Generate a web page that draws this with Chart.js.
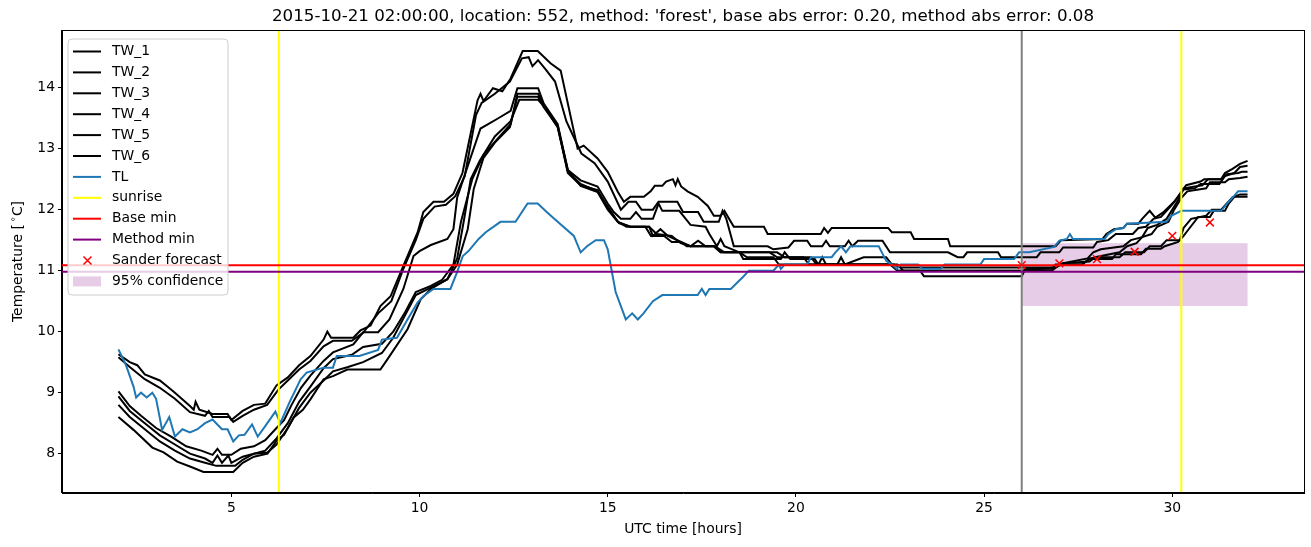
<!DOCTYPE html>
<html>
<head>
<meta charset="utf-8">
<script src="https://cdn.jsdelivr.net/npm/chart.js@4/dist/chart.umd.min.js"></script>
<style>
html,body{margin:0;padding:0;background:#fff}
</style>
</head>
<body>
<canvas id="chart" width="1311" height="547"></canvas>
<script>
// [hour, temperature] vertices
var tw1 = [[2,9.63],[2.3,9.5],[2.5,9.45],[2.7,9.3],[3.1,9.2],[3.3,9.1],[3.5,9.0],[3.9,8.78],[4.0,8.72],[4.05,8.85],[4.15,8.72],[4.5,8.65],[4.9,8.65],[5.0,8.55],[5.3,8.7],[5.6,8.8],[5.9,8.82],[6.2,9.12],[6.5,9.25],[6.8,9.45],[7.1,9.6],[7.45,9.87],[7.55,10.0],[7.65,9.9],[8.24,9.9],[8.43,10.02],[8.7,10.1],[8.96,10.42],[9.23,10.58],[9.57,11.08],[9.95,11.63],[10.1,11.96],[10.37,12.13],[10.65,12.13],[10.9,12.26],[11.14,12.6],[11.54,13.79],[11.62,13.9],[11.7,13.78],[11.95,13.99],[12.2,13.94],[12.42,14.15],[12.74,14.6],[13.14,14.6],[13.48,14.4],[13.75,14.28],[14.2,13.0],[14.36,13.05],[14.73,12.84],[15.0,12.62],[15.27,12.29],[15.43,12.13],[15.6,12.21],[15.96,12.21],[16.14,12.3],[16.25,12.39],[16.45,12.39],[16.55,12.46],[16.73,12.5],[16.8,12.4],[16.86,12.5],[16.95,12.38],[17.12,12.3],[17.39,12.21],[17.66,12.06],[17.82,11.9],[18.0,11.9],[18.1,11.98],[18.35,11.72],[19.15,11.72],[19.25,11.6],[20.66,11.6],[20.75,11.7],[20.85,11.62],[20.95,11.7],[22.45,11.7],[22.55,11.63],[23.05,11.63],[23.14,11.52],[24.04,11.52],[24.1,11.4],[26.9,11.4],[27.05,11.5],[28.15,11.52],[28.25,11.6],[28.45,11.68],[28.7,11.7],[28.8,11.77],[29.1,11.77],[29.2,11.85],[29.4,11.98],[29.55,11.87],[29.75,11.95],[30.05,12.13],[30.25,12.3],[30.37,12.4],[30.75,12.46],[30.85,12.5],[31.3,12.5],[31.4,12.6],[31.6,12.67],[31.8,12.75],[32,12.8]];
var tw2 = [[2,9.58],[2.3,9.42],[2.7,9.22],[3.1,9.08],[3.5,8.9],[3.9,8.68],[4.3,8.62],[4.4,8.7],[4.5,8.6],[4.95,8.6],[5.05,8.52],[5.3,8.62],[5.6,8.72],[5.95,8.8],[6.25,9.05],[6.5,9.2],[6.8,9.38],[7.1,9.52],[7.45,9.76],[7.7,9.85],[8.2,9.85],[8.5,9.98],[8.9,10.3],[9.25,10.5],[9.55,11.0],[9.9,11.5],[10.1,11.85],[10.4,12.05],[10.7,12.08],[10.95,12.22],[11.2,12.55],[11.5,13.55],[11.65,13.75],[12.0,13.9],[12.4,14.1],[12.72,14.48],[12.9,14.5],[13.0,14.35],[13.15,14.45],[13.35,14.3],[13.6,14.1],[13.9,13.45],[14.3,12.92],[14.65,12.76],[15.0,12.46],[15.35,12.0],[15.55,12.13],[15.75,12.13],[15.9,12.0],[16.2,12.0],[16.35,12.13],[16.85,12.13],[17.0,11.96],[17.4,11.96],[17.55,11.8],[17.95,11.8],[18.05,11.98],[18.15,11.85],[18.35,11.4],[19.25,11.4],[19.4,11.35],[19.8,11.38],[19.95,11.49],[20.3,11.49],[20.4,11.4],[20.7,11.4],[20.8,11.49],[20.9,11.4],[21.3,11.4],[21.4,11.49],[21.5,11.4],[21.65,11.49],[22.3,11.49],[22.5,11.3],[24.04,11.3],[24.3,11.22],[24.45,11.22],[24.55,11.3],[25.37,11.3],[25.45,11.22],[26.4,11.22],[26.5,11.3],[27.0,11.3],[27.1,11.38],[27.9,11.38],[28.0,11.47],[28.3,11.5],[28.5,11.6],[28.95,11.6],[29.1,11.7],[29.3,11.72],[29.5,11.85],[29.7,11.88],[29.95,12.05],[30.15,12.2],[30.3,12.33],[30.6,12.35],[30.75,12.42],[31.25,12.42],[31.4,12.55],[31.65,12.6],[31.8,12.7],[32,12.72]];
var tw3 = [[2,9.02],[2.3,8.78],[2.6,8.62],[3.0,8.42],[3.4,8.28],[3.8,8.12],[4.2,8.05],[4.5,7.98],[4.63,8.08],[4.75,7.98],[5.0,7.98],[5.25,8.08],[5.6,8.12],[5.9,8.22],[6.2,8.42],[6.4,8.55],[6.6,8.8],[6.85,9.08],[7.1,9.28],[7.45,9.52],[7.7,9.66],[8.24,9.79],[8.5,9.99],[8.9,9.99],[9.2,10.2],[9.57,10.7],[9.84,11.24],[10.0,11.32],[10.3,11.42],[10.74,11.52],[10.9,11.68],[11.0,12.2],[11.3,12.75],[11.62,13.33],[12.07,13.49],[12.42,13.62],[12.6,13.99],[13.15,13.99],[13.3,13.74],[13.67,13.4],[13.94,12.65],[14.28,12.48],[14.73,12.38],[15.0,12.1],[15.16,11.96],[15.35,11.85],[15.6,11.85],[15.75,11.96],[15.9,11.85],[16.2,11.85],[16.35,12.1],[16.45,11.98],[16.9,11.98],[17.2,11.75],[17.6,11.72],[17.7,11.6],[17.9,11.4],[18.0,11.52],[18.1,11.4],[18.5,11.3],[19.5,11.3],[19.7,11.22],[20.2,11.22],[20.35,11.1],[20.6,11.1],[20.7,11.22],[20.8,11.1],[21.1,11.1],[21.2,11.22],[21.3,11.1],[21.8,11.22],[22.4,11.22],[22.55,11.1],[22.7,11.0],[26.0,11.0],[26.9,11.05],[27.0,11.1],[27.1,11.12],[27.75,11.2],[27.9,11.3],[28.1,11.35],[28.7,11.4],[28.9,11.5],[29.2,11.55],[29.35,11.7],[29.6,11.75],[29.85,11.85],[30.0,12.0],[30.2,12.2],[30.3,12.35],[30.8,12.4],[30.95,12.5],[31.3,12.5],[31.45,12.58],[31.75,12.6],[31.85,12.62],[32,12.62]];
var tw4 = [[2,8.94],[2.3,8.7],[2.7,8.5],[3.1,8.3],[3.5,8.15],[3.9,8.0],[4.3,7.92],[4.5,7.85],[4.63,7.97],[4.75,7.85],[4.92,7.97],[5.0,7.85],[5.3,7.95],[5.6,8.0],[5.9,8.05],[6.2,8.25],[6.5,8.5],[6.8,8.85],[7.1,9.1],[7.45,9.4],[7.7,9.55],[8.2,9.62],[8.5,9.75],[9.0,9.8],[9.3,10.0],[9.6,10.3],[9.9,10.65],[10.3,10.75],[10.6,10.85],[10.9,11.1],[11.1,11.8],[11.4,12.5],[11.7,12.9],[12.07,13.16],[12.42,13.4],[12.6,13.9],[13.15,13.9],[13.35,13.66],[13.67,13.38],[13.94,12.62],[14.28,12.42],[14.73,12.3],[15.0,12.05],[15.27,11.8],[15.6,11.72],[16.1,11.72],[16.2,11.57],[16.4,11.68],[16.6,11.57],[16.95,11.47],[17.2,11.4],[17.4,11.49],[17.6,11.4],[17.85,11.4],[18.1,11.3],[18.5,11.3],[18.6,11.19],[19.6,11.19],[19.7,11.3],[19.85,11.19],[20.5,11.19],[20.6,11.1],[22.6,11.1],[22.8,11.05],[26.9,11.05],[27.0,11.1],[27.1,11.12],[27.8,11.15],[27.95,11.22],[28.6,11.3],[28.8,11.4],[29.05,11.45],[29.2,11.55],[29.45,11.6],[29.6,11.72],[29.9,11.8],[30.05,12.0],[30.25,12.2],[30.4,12.3],[30.9,12.35],[31.0,12.45],[31.4,12.45],[31.5,12.5],[31.8,12.52],[32,12.54]];
var tw5 = [[2,8.8],[2.3,8.6],[2.7,8.4],[3.1,8.2],[3.5,8.05],[3.9,7.92],[4.3,7.85],[4.6,7.8],[5.1,7.8],[5.3,7.9],[5.6,8.0],[5.96,8.02],[6.2,8.15],[6.5,8.42],[6.8,8.75],[7.1,9.0],[7.45,9.2],[7.7,9.35],[8.1,9.42],[8.5,9.5],[9.0,9.65],[9.3,9.9],[9.6,10.25],[9.9,10.6],[10.3,10.72],[10.74,10.86],[11.0,11.2],[11.2,11.9],[11.36,12.5],[11.6,12.8],[12.0,13.2],[12.42,13.45],[12.65,13.8],[13.15,13.8],[13.3,13.7],[13.67,13.35],[13.94,12.65],[14.28,12.39],[14.73,12.29],[15.0,12.0],[15.27,11.8],[15.5,11.72],[16.0,11.72],[16.15,11.57],[16.5,11.57],[16.7,11.47],[16.94,11.47],[17.1,11.4],[17.82,11.4],[18.0,11.3],[18.5,11.3],[18.7,11.22],[19.4,11.22],[19.55,11.1],[22.7,11.1],[22.85,11.0],[26.8,11.0],[26.9,11.05],[27.05,11.1],[27.6,11.1],[27.8,11.2],[28.0,11.22],[28.6,11.22],[28.75,11.3],[29.25,11.3],[29.4,11.4],[29.7,11.4],[29.85,11.5],[30.2,11.5],[30.3,11.7],[30.5,11.85],[30.9,11.9],[31.05,12.0],[31.3,12.0],[31.45,12.1],[31.6,12.2],[31.8,12.25],[32,12.25]];
var tw6 = [[2,8.6],[2.4,8.39],[2.9,8.1],[3.2,8.02],[3.56,7.87],[3.9,7.79],[4.26,7.7],[5.05,7.7],[5.3,7.85],[5.6,7.95],[5.96,8.0],[6.22,8.23],[6.4,8.31],[6.65,8.59],[6.9,8.72],[7.1,8.89],[7.45,9.22],[7.7,9.27],[8.08,9.38],[8.96,9.38],[9.15,9.55],[9.68,10.04],[10.03,10.53],[10.3,10.7],[10.74,10.86],[11.0,11.1],[11.28,11.68],[11.44,12.34],[11.7,12.85],[12.0,13.1],[12.4,13.35],[12.6,13.85],[13.15,13.85],[13.3,13.68],[13.67,13.36],[13.94,12.6],[14.28,12.4],[14.73,12.32],[15.0,12.02],[15.3,11.78],[15.6,11.72],[16.1,11.72],[16.3,11.6],[16.7,11.57],[16.94,11.45],[17.2,11.4],[17.82,11.4],[18.0,11.3],[19.3,11.3],[19.5,11.22],[20.4,11.22],[20.55,11.1],[22.5,11.1],[22.7,11.0],[23.3,11.0],[23.4,10.91],[26.0,10.91],[26.1,11.03],[26.8,11.03],[26.9,11.1],[27.6,11.1],[27.8,11.19],[28.4,11.19],[28.5,11.27],[29.17,11.27],[29.3,11.36],[29.7,11.36],[29.8,11.4],[30.16,11.47],[30.3,11.57],[30.4,11.65],[30.69,11.88],[31.0,11.88],[31.1,11.98],[31.4,11.98],[31.5,12.1],[31.65,12.21],[32,12.21]];
var tl = [[2,9.71],[2.2,9.45],[2.4,9.1],[2.47,8.92],[2.6,9.0],[2.75,8.92],[2.9,9.0],[3.0,8.9],[3.16,8.39],[3.35,8.6],[3.5,8.28],[3.7,8.4],[3.9,8.35],[4.1,8.4],[4.3,8.5],[4.5,8.56],[4.75,8.4],[4.9,8.4],[5.05,8.2],[5.2,8.3],[5.35,8.31],[5.55,8.48],[5.7,8.28],[5.9,8.45],[6.17,8.69],[6.3,8.5],[6.55,8.85],[6.84,9.22],[7.0,9.33],[7.45,9.41],[7.7,9.41],[7.8,9.6],[8.4,9.6],[8.9,9.7],[9.0,9.87],[9.4,9.9],[9.68,10.2],[9.95,10.48],[10.1,10.58],[10.37,10.7],[10.82,10.7],[11.0,10.98],[11.15,11.24],[11.3,11.32],[11.57,11.52],[11.76,11.63],[12.15,11.8],[12.55,11.8],[12.87,12.1],[13.14,12.1],[13.4,11.95],[13.67,11.8],[14.1,11.57],[14.28,11.3],[14.45,11.4],[14.68,11.5],[14.9,11.5],[15.0,11.35],[15.21,10.65],[15.48,10.2],[15.65,10.3],[15.8,10.2],[15.95,10.3],[16.2,10.5],[16.45,10.6],[17.39,10.6],[17.5,10.7],[17.6,10.6],[17.7,10.7],[18.27,10.7],[18.45,10.81],[18.6,10.9],[18.75,11.0],[19.4,11.0],[19.55,11.1],[19.6,11.03],[19.7,11.1],[20.3,11.1],[20.4,11.22],[20.95,11.22],[21.05,11.3],[21.2,11.4],[21.33,11.3],[21.45,11.4],[22.2,11.4],[22.4,11.16],[22.55,11.1],[22.68,11.03],[22.78,11.1],[23.25,11.1],[23.35,11.03],[23.85,11.03],[23.95,11.1],[24.9,11.1],[25.0,11.19],[25.8,11.19],[25.93,11.3],[26.2,11.3],[26.86,11.39],[27.0,11.49],[27.2,11.52],[27.28,11.6],[27.36,11.52],[28.2,11.52],[28.3,11.6],[28.5,11.68],[28.7,11.7],[28.8,11.77],[29.84,11.8],[29.97,11.9],[30.24,11.98],[31.3,11.98],[31.5,12.13],[31.65,12.23],[31.75,12.3],[32,12.3]];

var forecastHours = [26, 27, 28, 29, 30, 31];
var forecastTemps = [11.09, 11.12, 11.19, 11.31, 11.57, 11.79];
var sunrise = [6.26, 30.24];
var forecastStart = 26.0;
var baseMin = 11.09;
var methodMin = 10.98;
var confHours = [26, 32];
var confTemps = [10.42, 11.45];

var xTicks = [5, 10, 15, 20, 25, 30];
var yTicks = [8, 9, 10, 11, 12, 13, 14];
var twLabels = ['TW_1', 'TW_2', 'TW_3', 'TW_4', 'TW_5', 'TW_6'];

var FONT = '"DejaVu Sans", sans-serif';

function pts(a){
  return a.map(function(p){ return {x: p[0], y: p[1]}; });
}

var datasets = [];
[tw1, tw2, tw3, tw4, tw5, tw6].forEach(function(s, i){
  datasets.push({label: twLabels[i], data: pts(s), borderColor: '#000', borderWidth: 2,
    pointRadius: 0, fill: false, tension: 0, order: 3});
});
datasets.push({label: 'TL', data: pts(tl), borderColor: '#1f77b4', borderWidth: 2,
  pointRadius: 0, fill: false, tension: 0, order: 2});
datasets.push({label: 'Sander forecast', type: 'scatter',
  data: forecastHours.map(function(h, i){ return {x: h, y: forecastTemps[i]}; }),
  showLine: false, pointStyle: 'crossRot', pointRadius: 5.5, borderColor: 'red',
  backgroundColor: 'red', pointBorderWidth: 1.5, order: 1});

var extras = {
  id: 'extras',
  beforeDatasetsDraw: function(chart){
    var ctx = chart.ctx, xs = chart.scales.x, ys = chart.scales.y;
    ctx.save();
    ctx.fillStyle = 'rgba(128,0,128,0.2)';
    var x0 = xs.getPixelForValue(confHours[0]), x1 = xs.getPixelForValue(confHours[1]);
    var y0 = ys.getPixelForValue(confTemps[1]), y1 = ys.getPixelForValue(confTemps[0]);
    ctx.fillRect(x0, y0, x1 - x0, y1 - y0);
    ctx.restore();
  },
  afterDatasetsDraw: function(chart){
    var ctx = chart.ctx, a = chart.chartArea, xs = chart.scales.x, ys = chart.scales.y;
    ctx.save();
    ctx.lineWidth = 2;
    function vline(v, c){
      var x = xs.getPixelForValue(v);
      ctx.strokeStyle = c; ctx.beginPath(); ctx.moveTo(x, a.top); ctx.lineTo(x, a.bottom); ctx.stroke();
    }
    function hline(v, c){
      var y = ys.getPixelForValue(v);
      ctx.strokeStyle = c; ctx.beginPath(); ctx.moveTo(a.left, y); ctx.lineTo(a.right, y); ctx.stroke();
    }
    sunrise.forEach(function(v){ vline(v, '#ffff00'); });
    vline(forecastStart, 'grey');
    hline(baseMin, 'red');
    hline(methodMin, 'purple');
    ctx.restore();
  },
  afterDraw: function(chart){
    var ctx = chart.ctx, a = chart.chartArea;
    ctx.save();
    // frame
    ctx.strokeStyle = '#000'; ctx.lineWidth = 1;
    ctx.strokeRect(Math.round(a.left) - 0.5, Math.round(a.top) + 0.5, Math.round(a.right - a.left) + 1, Math.round(a.bottom - a.top) - 1);
    // title and axis labels
    ctx.fillStyle = '#000';
    ctx.textAlign = 'center'; ctx.textBaseline = 'middle';
    ctx.font = '16.7px ' + FONT;
    ctx.fillText("2015-10-21 02:00:00, location: 552, method: 'forest', base abs error: 0.20, method abs error: 0.08", (a.left + a.right) / 2, 17);
    ctx.font = '13.9px ' + FONT;
    ctx.fillText('UTC time [hours]', (a.left + a.right) / 2, 529);
    ctx.save();
    ctx.translate(18, (a.top + a.bottom) / 2);
    ctx.rotate(-Math.PI / 2);
    var p1 = 'Temperature [', p2 = '\u2218', p3 = 'C]';
    ctx.font = '13.9px ' + FONT;
    var w1 = ctx.measureText(p1).width, w3 = ctx.measureText(p3).width;
    ctx.font = '9.7px ' + FONT;
    var w2 = ctx.measureText(p2).width + 2;
    var sx = -(w1 + w2 + w3) / 2;
    ctx.textAlign = 'left';
    ctx.font = '13.9px ' + FONT;
    ctx.fillText(p1, sx, 0);
    ctx.fillText(p3, sx + w1 + w2, 0);
    ctx.font = '9.7px ' + FONT;
    ctx.fillText(p2, sx + w1 + 2, -5);
    ctx.restore();

    // legend
    var lx = 68, ly = 39, lw = 160, lh = 256, r = 4;
    ctx.beginPath();
    ctx.moveTo(lx + r, ly); ctx.lineTo(lx + lw - r, ly); ctx.quadraticCurveTo(lx + lw, ly, lx + lw, ly + r);
    ctx.lineTo(lx + lw, ly + lh - r); ctx.quadraticCurveTo(lx + lw, ly + lh, lx + lw - r, ly + lh);
    ctx.lineTo(lx + r, ly + lh); ctx.quadraticCurveTo(lx, ly + lh, lx, ly + lh - r);
    ctx.lineTo(lx, ly + r); ctx.quadraticCurveTo(lx, ly, lx + r, ly);
    ctx.closePath();
    ctx.fillStyle = 'rgba(255,255,255,0.8)'; ctx.fill();
    ctx.strokeStyle = '#cccccc'; ctx.lineWidth = 1; ctx.stroke();

    var items = [];
    chart.data.datasets.forEach(function(d){
      if (d.type !== 'scatter') items.push({label: d.label, kind: 'line', color: d.borderColor});
    });
    items.push({label: 'sunrise', kind: 'line', color: '#ffff00'});
    items.push({label: 'Base min', kind: 'line', color: 'red'});
    items.push({label: 'Method min', kind: 'line', color: 'purple'});
    items.push({label: 'Sander forecast', kind: 'x', color: 'red'});
    items.push({label: '95% confidence', kind: 'patch', color: 'rgba(128,0,128,0.2)'});
    ctx.font = '13.9px ' + FONT; ctx.textAlign = 'left'; ctx.textBaseline = 'middle';
    items.forEach(function(it, i){
      var cy = 51.5 + i * 20.9;
      if (it.kind === 'line') {
        ctx.strokeStyle = it.color; ctx.lineWidth = 2;
        ctx.beginPath(); ctx.moveTo(73, cy); ctx.lineTo(101, cy); ctx.stroke();
      } else if (it.kind === 'x') {
        ctx.strokeStyle = it.color; ctx.lineWidth = 1.5;
        ctx.beginPath(); ctx.moveTo(83.5, cy - 4); ctx.lineTo(91.5, cy + 4);
        ctx.moveTo(91.5, cy - 4); ctx.lineTo(83.5, cy + 4); ctx.stroke();
      } else {
        ctx.fillStyle = it.color; ctx.fillRect(73, cy - 5, 28, 10);
      }
      ctx.fillStyle = '#000';
      ctx.fillText(it.label, 112, cy);
    });
    ctx.restore();
  }
};

new Chart(document.getElementById('chart'), {
  type: 'line',
  data: {datasets: datasets},
  options: {
    responsive: false,
    animation: false,
    devicePixelRatio: 1,
    layout: {padding: {left: 0, right: 7, top: 30, bottom: 0}},
    plugins: {legend: {display: false}, tooltip: {enabled: false}, title: {display: false}},
    scales: {
      x: {
        type: 'linear', min: 0.5, max: 33.5,
        afterBuildTicks: function(s){ s.ticks = xTicks.map(function(v){ return {value: v}; }); },
        afterFit: function(s){ s.height = 54; },
        grid: {drawOnChartArea: false, tickLength: 4, tickColor: '#000', tickWidth: 1},
        border: {color: '#000', width: 1},
        ticks: {color: '#000', font: {family: FONT, size: 13.9}, padding: 3, maxRotation: 0, autoSkip: false}
      },
      y: {
        type: 'linear', min: 7.355, max: 14.945,
        afterBuildTicks: function(s){ s.ticks = yTicks.map(function(v){ return {value: v}; }); },
        afterFit: function(s){ s.width = 62; },
        grid: {drawOnChartArea: false, tickLength: 4, tickColor: '#000', tickWidth: 1},
        border: {color: '#000', width: 1},
        ticks: {color: '#000', font: {family: FONT, size: 13.9}, padding: 3, autoSkip: false}
      }
    }
  },
  plugins: [extras]
});
</script>
</body>
</html>
